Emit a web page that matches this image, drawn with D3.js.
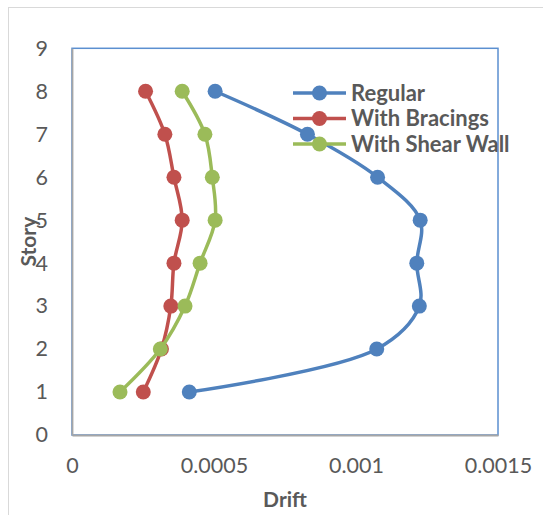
<!DOCTYPE html>
<html>
<head>
<meta charset="utf-8">
<script src="https://cdn.jsdelivr.net/npm/d3@7"></script>
<style>
  html, body { margin: 0; padding: 0; background: #fff; }
  svg { display: block; }
</style>
</head>
<body>
<svg id="chart" width="543" height="515"></svg>
<script>
// Story levels and inter-story drift per structural system
const stories = [1, 2, 3, 4, 5, 6, 7, 8];
const regular = [0.000413, 0.001073, 0.001223, 0.001214, 0.001226, 0.001076, 0.000829, 0.000504];
const withBracings = [0.000251, 0.000315, 0.000348, 0.000359, 0.000388, 0.000359, 0.000327, 0.000259];
const withShearWall = [0.000169, 0.000311, 0.000398, 0.000451, 0.000504, 0.000494, 0.000468, 0.000388];

const seriesNames = ["Regular", "With Bracings", "With Shear Wall"];
const seriesColors = ["#4F81BD", "#C0504D", "#9BBB59"];
const xTicks = [0, 0.0005, 0.001, 0.0015];
const yTicks = [0, 1, 2, 3, 4, 5, 6, 7, 8, 9];

const series = [regular, withBracings, withShearWall].map((vals, i) => ({
  name: seriesNames[i],
  color: seriesColors[i],
  points: stories.map((s, j) => ({ story: s, drift: vals[j] }))
}));

const svg = d3.select("#chart");
const font = "Lato, 'Open Sans', sans-serif";
const plot = { left: 72, right: 498, top: 48.3, bottom: 435 };

const x = d3.scaleLinear().domain([0, 0.0015]).range([plot.left, plot.right]);
const y = d3.scaleLinear().domain([0, 9]).range([plot.bottom, plot.top]);

// Outer chart frame
svg.append("rect")
  .attr("x", 8.5).attr("y", 7.5)
  .attr("width", 560).attr("height", 540)
  .attr("fill", "#fff").attr("stroke", "#D9D9D9").attr("stroke-width", 1);

// Plot area frame
svg.append("rect")
  .attr("x", plot.left).attr("y", plot.top)
  .attr("width", plot.right - plot.left).attr("height", plot.bottom - plot.top)
  .attr("fill", "none").attr("stroke", "#5B8FD0").attr("stroke-width", 1.5);

// Axes
const xAxis = d3.axisBottom(x).tickValues(xTicks).tickSize(0).tickPadding(23)
  .tickFormat(d => d === 0 ? "0" : String(+d.toFixed(4)));
const yAxis = d3.axisLeft(y).tickValues(yTicks).tickSize(0).tickPadding(24)
  .tickFormat(d3.format("d"));

const gx = svg.append("g").attr("transform", `translate(0,${plot.bottom})`).call(xAxis);
const gy = svg.append("g").attr("transform", `translate(${plot.left},0)`).call(yAxis);

[gx, gy].forEach(g => {
  g.select(".domain").attr("stroke", "#A6A6A6").attr("stroke-width", 1.8);
  g.selectAll("text")
    .attr("fill", "#595959")
    .style("font-family", font)
    .style("font-size", "21.5px");
});

// Axis titles
svg.append("text")
  .attr("x", (plot.left + plot.right) / 2).attr("y", 507)
  .attr("text-anchor", "middle")
  .attr("fill", "#595959")
  .style("font-family", font).style("font-size", "21px").style("font-weight", "bold")
  .text("Drift");

svg.append("text")
  .attr("transform", `translate(36,${(plot.top + plot.bottom) / 2}) rotate(-90)`)
  .attr("text-anchor", "middle")
  .attr("fill", "#595959")
  .style("font-family", font).style("font-size", "21px").style("font-weight", "bold")
  .text("Story");

// Smoothed series lines with markers
const line = d3.line()
  .x(d => x(d.drift))
  .y(d => y(d.story))
  .curve(d3.curveCatmullRom.alpha(0.5));

series.forEach(s => {
  const g = svg.append("g");
  g.append("path")
    .attr("d", line(s.points))
    .attr("fill", "none")
    .attr("stroke", s.color)
    .attr("stroke-width", 3.5)
    .attr("stroke-linecap", "round");
  g.selectAll("circle")
    .data(s.points)
    .join("circle")
    .attr("cx", d => x(d.drift))
    .attr("cy", d => y(d.story))
    .attr("r", 7.5)
    .attr("fill", s.color);
});

// Legend
const legend = svg.append("g");
const legendY = [93, 118.5, 144];
series.forEach((s, i) => {
  const row = legend.append("g").attr("transform", `translate(0,${legendY[i]})`);
  row.append("line")
    .attr("x1", 293).attr("x2", 346)
    .attr("stroke", s.color).attr("stroke-width", 3.5);
  row.append("circle").attr("cx", 319.5).attr("cy", 0).attr("r", 7.5).attr("fill", s.color);
  row.append("text")
    .attr("x", 351).attr("y", 0).attr("dy", "0.36em")
    .attr("fill", "#595959")
    .style("font-family", font).style("font-size", "22px").style("font-weight", "bold")
    .text(s.name);
});
</script>
</body>
</html>
